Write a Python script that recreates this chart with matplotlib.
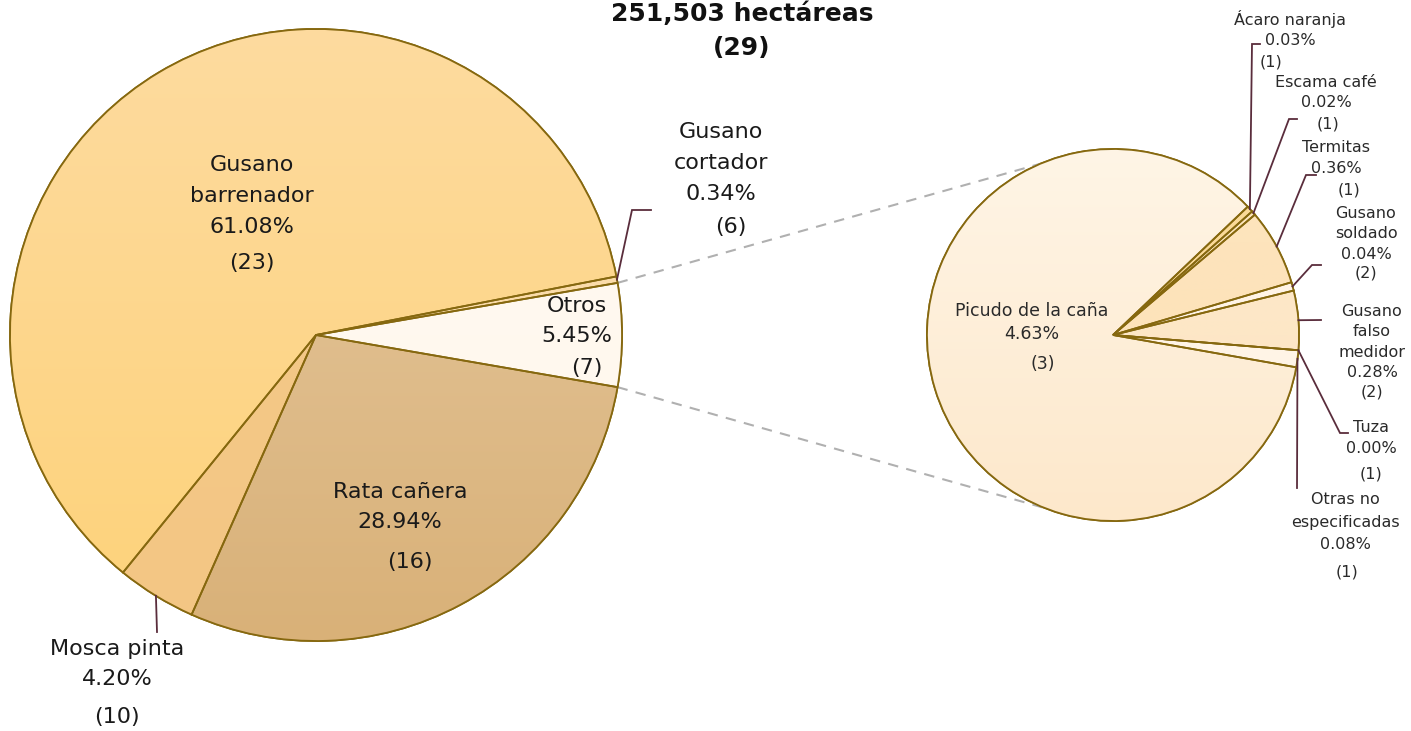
import numpy as np
import matplotlib
matplotlib.use("Agg")
import matplotlib.pyplot as plt
from matplotlib.colors import LinearSegmentedColormap
from matplotlib.patches import Wedge

# ---------------- data ----------------
title_text = "251,503 hectáreas"
title_count = 29

main_labels = ["Otros", "Gusano\ncortador", "Gusano\nbarrenador", "Mosca pinta", "Rata cañera"]
main_pct = [5.45, 0.34, 61.08, 4.20, 28.94]
main_counts = [7, 6, 23, 10, 16]

sub_labels = ["Otras no\nespecificadas", "Tuza", "Gusano\nfalso\nmedidor", "Gusano\nsoldado",
              "Termitas", "Escama café", "Ácaro naranja", "Picudo de la caña"]
sub_pct = [0.08, 0.00, 0.28, 0.04, 0.36, 0.02, 0.03, 4.63]
sub_counts = [1, 1, 2, 2, 1, 1, 1, 3]

# ---------------- style / layout ----------------
W, H = 1411, 731
EDGE = "#86680f"
LEAD = "#5a2d3c"
TXT = "#1a1a1a"
FONT = ["DejaVu Sans"]

main_colors = [("#fffbf4", "#fff6ea"), ("#fbdcaa", "#fbdcaa"), ("#fedb9f", "#fdd279"),
               ("#f5ca89", "#f3c684"), ("#e6caa2", "#d9b178")]
sub_colors = [("#fff6ea", "#fff3e4"), ("#fde6c5", "#fde6c5"), ("#fdeacd", "#fde4c0"),
              ("#fff5e8", "#fff3e4"), ("#fde5be", "#fde1b6"), ("#fde6bc", "#fde6bc"),
              ("#fbda98", "#fbda98"), ("#fff5e6", "#fde8cb")]

MC = (316, 335); MR = 306          # main pie centre (px) and radius
SC = (1113, 335); SR = 186         # sub pie centre and radius
SUB_START = -10

def Y(y):
    return H - y

fig = plt.figure(figsize=(W / 100, H / 100), dpi=100)
ax = fig.add_axes([0, 0, 1, 1])

def draw_pie(vals, colors, center, R, start):
    c = (center[0], Y(center[1]))
    wedges, _ = ax.pie(vals, center=c, radius=R, startangle=start, counterclock=True,
                       colors=[t for t, b in colors],
                       wedgeprops=dict(edgecolor=EDGE, linewidth=1.3))
    for w, (top, bot) in zip(wedges, colors):
        cmap = LinearSegmentedColormap.from_list("g", [bot, top])
        arr = np.linspace(0, 1, 256).reshape(-1, 1)
        im = ax.imshow(arr, cmap=cmap, origin="lower", aspect="auto", interpolation="bilinear",
                       extent=(c[0] - R, c[0] + R, c[1] - R, c[1] + R), zorder=2)
        im.set_clip_path(w)
        ax.add_patch(Wedge(w.center, w.r, w.theta1, w.theta2, facecolor="none",
                           edgecolor=EDGE, linewidth=1.3, zorder=3))
    return wedges, c

main_start = -main_pct[0] / sum(main_pct) * 180
mw, mc = draw_pie(main_pct, main_colors, MC, MR, main_start)
sw, sc = draw_pie(sub_pct, sub_colors, SC, SR, SUB_START)

def edge_pt(c, R, ang):
    a = np.deg2rad(ang)
    return c[0] + R * np.cos(a), c[1] + R * np.sin(a)

# connector dashed lines
otros = mw[0]
p1 = edge_pt(mc, MR, otros.theta2)
q1 = edge_pt(sc, SR, 113)
p2 = edge_pt(mc, MR, otros.theta1)
q2 = edge_pt(sc, SR, 248.5)
for p, q in [(p1, q1), (p2, q2)]:
    ax.plot([p[0], q[0]], [p[1], q[1]], color="#b0b0b0", lw=1.5, ls=(0, (5, 4)), zorder=1)

# label layout (px): (x, y of name block centre, x, y of count)
main_lab_pos = {
    0: (577, 321, 587, 368),
    1: (721, 163, 731, 227),
    2: (252, 196, 252, 263),
    3: (117, 664, 117, 717),
    4: (400, 507, 410, 562),
}
main_fs = 16
sub_lab_pos = {
    0: (1345, 522, 1347, 572),
    1: (1371, 438, 1371, 474),
    2: (1372, 342, 1372, 392),
    3: (1366, 234, 1366, 273),
    4: (1336, 158, 1349, 190),
    5: (1326, 92.5, 1328, 124),
    6: (1290, 29, 1271, 62),
    7: (1032, 322.5, 1043, 364),
}
sub_fs = {7: 12.5}
sub_ls = {0: 1.6, 7: 1.3}

for i, (lab, p, n) in enumerate(zip(main_labels, main_pct, main_counts)):
    x, y, xc, yc = main_lab_pos[i]
    ax.text(x, Y(y), f"{lab}\n{p:.2f}%", ha="center", va="center", fontsize=main_fs,
            color=TXT, family=FONT, linespacing=1.68, zorder=5)
    ax.text(xc, Y(yc), f"({n})", ha="center", va="center", fontsize=main_fs,
            color=TXT, family=FONT, zorder=5)

for i, (lab, p, n) in enumerate(zip(sub_labels, sub_pct, sub_counts)):
    x, y, xc, yc = sub_lab_pos[i]
    fs = sub_fs.get(i, 11.5)
    ax.text(x, Y(y), f"{lab}\n{p:.2f}%", ha="center", va="center", fontsize=fs,
            color="#2a2a2a", family=FONT, linespacing=sub_ls.get(i, 1.42), zorder=5)
    ax.text(xc, Y(yc), f"({n})", ha="center", va="center", fontsize=fs,
            color="#2a2a2a", family=FONT, zorder=5)

# leader lines: (elbow px, end px)
main_leaders = {1: [(632, 210), (651, 210)], 3: [(157, 632)]}
sub_leaders = {
    6: [(1252, 44), (1260, 44)],
    5: [(1289, 119), (1297, 119)],
    4: [(1306, 175), (1316, 175)],
    3: [(1312, 265), (1321, 265)],
    2: [(1321, 320)],
    1: [(1340, 433), (1348, 433)],
    0: [(1297, 488)],
}

def leaders(wedges, c, R, table):
    for i, pts in table.items():
        w = wedges[i]
        mid = (w.theta1 + w.theta2) / 2
        a = edge_pt(c, R, mid)
        xs = [a[0]] + [p[0] for p in pts]
        ys = [a[1]] + [Y(p[1]) for p in pts]
        ax.plot(xs, ys, color=LEAD, lw=1.3, zorder=4, solid_joinstyle="miter")

leaders(mw, mc, MR, main_leaders)
leaders(sw, sc, SR, sub_leaders)

ax.text(742, Y(14), title_text, ha="center", va="center", fontsize=18, fontweight="bold",
        color="#111111", family=FONT, zorder=5)
ax.text(742, Y(48), f"({title_count})", ha="center", va="center", fontsize=18,
        fontweight="bold", color="#111111", family=FONT, zorder=5)

ax.set_xlim(0, W)
ax.set_ylim(0, H)
ax.set_aspect("equal")
ax.axis("off")
fig.savefig("out.png", dpi=100)
